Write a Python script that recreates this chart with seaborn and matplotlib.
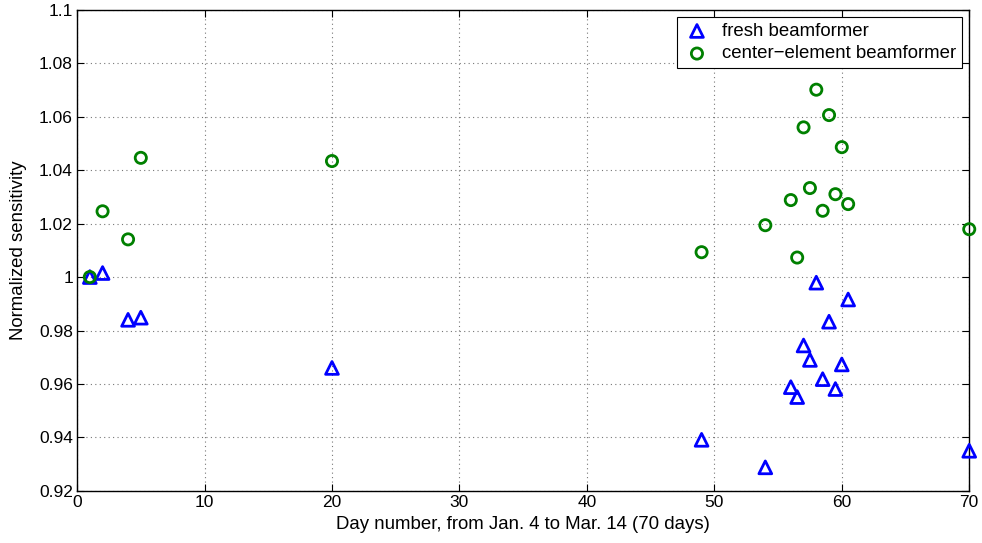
import matplotlib
matplotlib.use("Agg")
import matplotlib.pyplot as plt
import seaborn as sns
import pandas as pd

# Measurement days (Jan. 4 = day 1)
days = [1, 2, 4, 5, 20, 49, 54, 56, 56.5, 57, 57.5, 58, 58.5, 59, 59.5, 60, 60.5, 70]

# Normalized sensitivity for each beamformer
fresh = [1.000, 1.0015, 0.984, 0.9848, 0.966, 0.9391, 0.9288, 0.9588, 0.9551,
         0.9744, 0.969, 0.9979, 0.9618, 0.9833, 0.9581, 0.9673, 0.9916, 0.935]
center = [1.000, 1.0246, 1.0141, 1.0446, 1.0434, 1.0093, 1.0194, 1.0288, 1.0073,
          1.056, 1.0333, 1.0701, 1.0248, 1.0606, 1.031, 1.0486, 1.0273, 1.0179]

series_names = ["fresh beamformer", "center\u2212element beamformer"]
x_ticks = [0, 10, 20, 30, 40, 50, 60, 70]
y_ticks = [0.92, 0.94, 0.96, 0.98, 1.0, 1.02, 1.04, 1.06, 1.08, 1.1]
y_tick_labels = ["0.92", "0.94", "0.96", "0.98", "1", "1.02", "1.04", "1.06", "1.08", "1.1"]

df = pd.DataFrame({
    "day": days * 2,
    "sens": fresh + center,
    "series": [series_names[0]] * len(days) + [series_names[1]] * len(days),
})

sns.set_theme(style="white")
plt.rcParams["font.family"] = ["Liberation Sans", "DejaVu Sans"]
plt.rcParams["text.color"] = "black"
plt.rcParams["axes.labelcolor"] = "black"

fig = plt.figure(figsize=(9.82, 5.43), dpi=100)
ax = fig.add_axes([0.0785, 0.096, 0.9085, 0.886])

sns.scatterplot(data=df[df.series == series_names[0]], x="day", y="sens",
                marker="^", s=85, facecolors="none", edgecolor="#0000ff",
                linewidth=2.0, ax=ax, label=series_names[0], zorder=3,
                clip_on=False)
sns.scatterplot(data=df[df.series == series_names[1]], x="day", y="sens",
                marker="o", s=65, facecolors="none", edgecolor="#008000",
                linewidth=2.0, ax=ax, label=series_names[1], zorder=3,
                clip_on=False)

ax.set_xlim(0, 70)
ax.set_ylim(0.92, 1.1)
ax.set_xticks(x_ticks)
ax.set_yticks(y_ticks)
ax.set_yticklabels(y_tick_labels)
ax.tick_params(axis="both", direction="in", length=5, width=0.8,
               labelsize=12.5, colors="black", pad=3,
               top=True, right=True, bottom=True, left=True)
ax.grid(True, linestyle=(0, (1, 3)), color="#777777", linewidth=0.8)
for spine in ax.spines.values():
    spine.set_color("black")
    spine.set_linewidth(1.0)

ax.set_xlabel("Day number, from Jan. 4 to Mar. 14 (70 days)", fontsize=13.4,
              labelpad=4)
ax.set_ylabel("Normalized sensitivity", fontsize=13.4, labelpad=9)

leg = ax.legend(loc="upper right", fontsize=13.4, frameon=True, fancybox=False,
                framealpha=1, edgecolor="black", borderpad=0.3,
                handletextpad=0.6, labelspacing=0.3, borderaxespad=0.4,
                handlelength=1.5)
leg.get_frame().set_linewidth(0.8)

fig.savefig("out.png", dpi=100)
